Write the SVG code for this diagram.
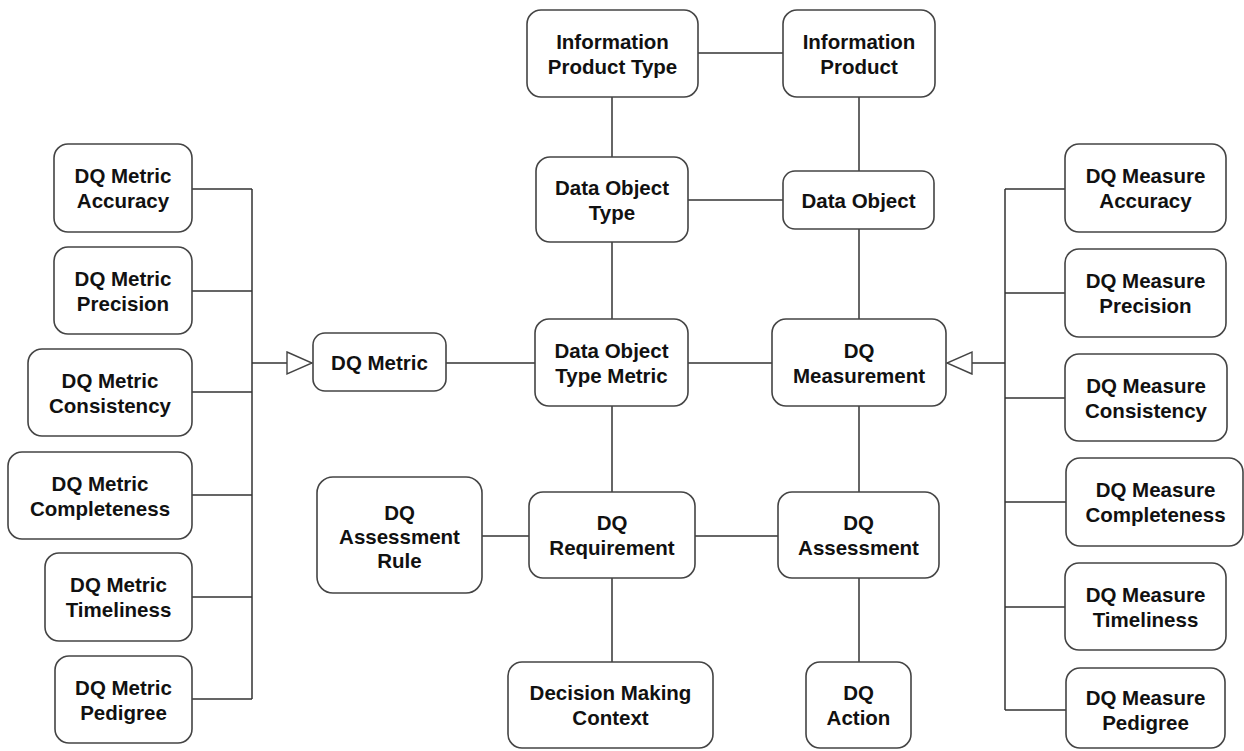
<svg xmlns="http://www.w3.org/2000/svg" width="1244" height="751" viewBox="0 0 1244 751">
<style>
.n rect{fill:#fff;stroke:#444;stroke-width:1.6}
.n text{font-family:"Liberation Sans",Arial,sans-serif;font-weight:bold;font-size:20.5px;fill:#111;text-anchor:middle}
.c path{fill:none;stroke:#333;stroke-width:1.5}
</style>
<defs>
<marker id="tri" markerUnits="userSpaceOnUse" markerWidth="28" markerHeight="26" refX="26" refY="12" orient="auto" overflow="visible">
<path d="M1,1 L26,12 L1,23 Z" fill="#fff" stroke="#444" stroke-width="1.4"/>
</marker>
</defs>
<rect width="1244" height="751" fill="#fff"/>
<g id="connectors" class="c">
<path d="M698,53H783"/>
<path d="M612,97V157"/>
<path d="M859,97V171"/>
<path d="M688,200H783"/>
<path d="M612,242V319"/>
<path d="M859,229V319"/>
<path d="M446,363H535"/>
<path d="M688,363H772"/>
<path d="M612,406V492"/>
<path d="M859,406V492"/>
<path d="M482,536H529"/>
<path d="M695,536H778"/>
<path d="M612,578V662"/>
<path d="M859,578V662"/>
<path d="M192,189H252M192,291H252M192,392H252M192,495H252M192,597H252M192,699H252M252,189V699"/>
<path d="M252,363H312" marker-end="url(#tri)"/>
<path d="M1065,189H1005M1065,293H1005M1065,398H1005M1066,502H1005M1065,607H1005M1066,710H1005M1005,189V710"/>
<path d="M1005,363H947" marker-end="url(#tri)"/>
</g>
<g id="ipt" class="n"><rect x="527" y="10" width="171" height="87" rx="14"/><text x="612.5" y="48.5">Information</text><text x="612.5" y="73.5">Product Type</text></g>
<g id="ip" class="n"><rect x="783" y="10" width="152" height="87" rx="14"/><text x="859" y="48.5">Information</text><text x="859" y="73.5">Product</text></g>
<g id="dot" class="n"><rect x="536" y="157" width="152" height="85" rx="14"/><text x="612" y="194.5">Data Object</text><text x="612" y="219.5">Type</text></g>
<g id="do" class="n"><rect x="783" y="171" width="151" height="58" rx="12"/><text x="858.5" y="207.5">Data Object</text></g>
<g id="dotm" class="n"><rect x="535" y="319" width="153" height="87" rx="14"/><text x="611.5" y="357.5">Data Object</text><text x="611.5" y="382.5">Type Metric</text></g>
<g id="dqm" class="n"><rect x="313" y="333" width="133" height="58" rx="12"/><text x="379.5" y="369.5">DQ Metric</text></g>
<g id="meas" class="n"><rect x="772" y="319" width="174" height="87" rx="14"/><text x="859" y="357.5">DQ</text><text x="859" y="382.5">Measurement</text></g>
<g id="rule" class="n"><rect x="317" y="477" width="165" height="116" rx="16"/><text x="399.5" y="520">DQ</text><text x="399.5" y="544">Assessment</text><text x="399.5" y="568">Rule</text></g>
<g id="req" class="n"><rect x="529" y="492" width="166" height="86" rx="14"/><text x="612" y="530">DQ</text><text x="612" y="555">Requirement</text></g>
<g id="ass" class="n"><rect x="778" y="492" width="161" height="86" rx="14"/><text x="858.5" y="530">DQ</text><text x="858.5" y="555">Assessment</text></g>
<g id="dmc" class="n"><rect x="508" y="662" width="205" height="86" rx="14"/><text x="610.5" y="700">Decision Making</text><text x="610.5" y="725">Context</text></g>
<g id="act" class="n"><rect x="806" y="662" width="105" height="86" rx="14"/><text x="858.5" y="700">DQ</text><text x="858.5" y="725">Action</text></g>
<g id="lm1" class="n"><rect x="54" y="144" width="138" height="88" rx="14"/><text x="123" y="183">DQ Metric</text><text x="123" y="208">Accuracy</text></g>
<g id="lm2" class="n"><rect x="54" y="247" width="138" height="87" rx="14"/><text x="123" y="285.5">DQ Metric</text><text x="123" y="310.5">Precision</text></g>
<g id="lm3" class="n"><rect x="28" y="349" width="164" height="87" rx="14"/><text x="110" y="387.5">DQ Metric</text><text x="110" y="412.5">Consistency</text></g>
<g id="lm4" class="n"><rect x="8" y="452" width="184" height="87" rx="14"/><text x="100" y="490.5">DQ Metric</text><text x="100" y="515.5">Completeness</text></g>
<g id="lm5" class="n"><rect x="45" y="553" width="147" height="88" rx="14"/><text x="118.5" y="592">DQ Metric</text><text x="118.5" y="617">Timeliness</text></g>
<g id="lm6" class="n"><rect x="55" y="656" width="137" height="87" rx="14"/><text x="123.5" y="694.5">DQ Metric</text><text x="123.5" y="719.5">Pedigree</text></g>
<g id="rm1" class="n"><rect x="1065" y="144" width="161" height="88" rx="14"/><text x="1145.5" y="183">DQ Measure</text><text x="1145.5" y="208">Accuracy</text></g>
<g id="rm2" class="n"><rect x="1065" y="249" width="161" height="88" rx="14"/><text x="1145.5" y="288">DQ Measure</text><text x="1145.5" y="313">Precision</text></g>
<g id="rm3" class="n"><rect x="1065" y="354" width="162" height="87" rx="14"/><text x="1146" y="392.5">DQ Measure</text><text x="1146" y="417.5">Consistency</text></g>
<g id="rm4" class="n"><rect x="1066" y="458" width="177" height="88" rx="14"/><text x="1155.5" y="497">DQ Measure</text><text x="1155.5" y="522">Completeness</text></g>
<g id="rm5" class="n"><rect x="1065" y="563" width="161" height="87" rx="14"/><text x="1145.5" y="601.5">DQ Measure</text><text x="1145.5" y="626.5">Timeliness</text></g>
<g id="rm6" class="n"><rect x="1066" y="668" width="159" height="80" rx="14"/><text x="1145.5" y="705">DQ Measure</text><text x="1145.5" y="730">Pedigree</text></g>
</svg>
